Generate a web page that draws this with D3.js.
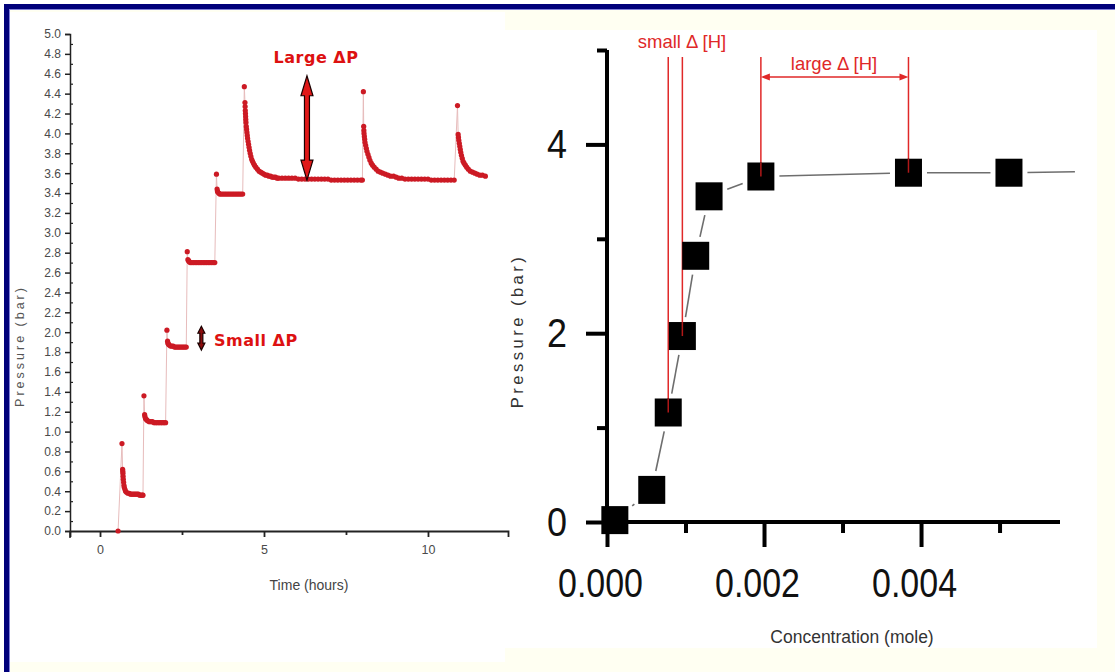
<!DOCTYPE html>
<html>
<head>
<meta charset="utf-8">
<script src="https://cdn.jsdelivr.net/npm/d3@7"></script>
<style>
  html, body { margin: 0; padding: 0; background: #fff; }
  svg { display: block; }
</style>
</head>
<body>
<svg id="chart" width="1115" height="672"></svg>
<script>
// ---------- Left panel: pressure vs time (hydrogen dosing steps) ----------
const timeH = [
  0.55,
  // step 1
  0.67, 0.69, 0.695, 0.70, 0.705, 0.71, 0.72, 0.73, 0.74, 0.76, 0.78, 0.81, 0.85,
  0.89, 0.93, 0.97, 1.01, 1.05, 1.09, 1.13, 1.17, 1.21, 1.25, 1.29, 1.31,
  // step 2
  1.34, 1.36, 1.37, 1.39, 1.42, 1.45, 1.50, 1.55, 1.60, 1.65, 1.70, 1.75, 1.80, 1.85, 1.90, 1.95, 2.00,
  // step 3
  2.04, 2.06, 2.07, 2.09, 2.11, 2.15, 2.19, 2.23, 2.27, 2.31, 2.35, 2.39, 2.43, 2.47, 2.51, 2.55, 2.59, 2.63,
  // step 4
  2.66, 2.68, 2.70, 2.72, 2.75, 2.80, 2.85, 2.90, 2.95, 3.00, 3.05, 3.10, 3.15, 3.20, 3.25, 3.30, 3.35, 3.40, 3.45, 3.50,
  // step 5
  3.55, 3.57, 3.58, 3.59, 3.62, 3.65, 3.70, 3.75, 3.80, 3.85, 3.90, 3.95, 4.00, 4.05, 4.10, 4.15, 4.20, 4.25, 4.30, 4.35,
  // step 6
  4.40,
  4.42, 4.425, 4.43, 4.435, 4.44, 4.445, 4.45, 4.46, 4.47, 4.48, 4.49, 4.50, 4.515, 4.53, 4.545, 4.56, 4.58, 4.60,
  4.625, 4.65, 4.68, 4.71, 4.75, 4.80, 4.85, 4.90, 4.95, 5.00, 5.05, 5.10, 5.15, 5.20, 5.25, 5.30, 5.35, 5.40, 5.45,
  5.55, 5.65, 5.75, 5.85, 5.95, 6.05, 6.15, 6.25, 6.35, 6.45, 6.55, 6.65, 6.75, 6.85, 6.95, 7.05, 7.15, 7.25, 7.35, 7.45,
  7.55, 7.65, 7.75, 7.85, 7.95, 8.00,
  // step 7
  8.03,
  8.04, 8.045, 8.05, 8.06, 8.07, 8.08, 8.10, 8.12, 8.14, 8.17, 8.20, 8.23, 8.27, 8.31, 8.36, 8.42, 8.48, 8.55,
  8.62, 8.70, 8.78, 8.86, 8.95, 9.03, 9.11,
  9.2, 9.3, 9.4, 9.5, 9.6, 9.7, 9.8, 9.9, 10.0, 10.1, 10.2, 10.3, 10.4, 10.5, 10.6, 10.7, 10.8,
  // step 8
  10.90,
  10.92, 10.93, 10.94, 10.955, 10.97, 10.985, 11.00, 11.02, 11.045, 11.07, 11.10, 11.14, 11.18, 11.23, 11.29,
  11.36, 11.43, 11.50, 11.58, 11.66, 11.75
];
const pressureBar = [
  0.00,
  // step 1
  0.88, 0.62, 0.60, 0.58, 0.55, 0.52, 0.49, 0.46, 0.44, 0.42, 0.40, 0.39, 0.38,
  0.38, 0.37, 0.37, 0.37, 0.37, 0.37, 0.37, 0.37, 0.36, 0.36, 0.36, 0.36,
  // step 2
  1.36, 1.17, 1.15, 1.13, 1.12, 1.11, 1.10, 1.10, 1.10, 1.09, 1.09, 1.09, 1.09, 1.09, 1.09, 1.09, 1.09,
  // step 3
  2.02, 1.91, 1.89, 1.88, 1.87, 1.86, 1.86, 1.86, 1.85, 1.85, 1.85, 1.85, 1.85, 1.85, 1.85, 1.85, 1.85, 1.85,
  // step 4
  2.81, 2.73, 2.72, 2.71, 2.70, 2.70, 2.70, 2.70, 2.70, 2.70, 2.70, 2.70, 2.70, 2.70, 2.70, 2.70, 2.70, 2.70, 2.70, 2.70,
  // step 5
  3.59, 3.44, 3.42, 3.41, 3.40, 3.39, 3.39, 3.39, 3.39, 3.39, 3.39, 3.39, 3.39, 3.39, 3.39, 3.39, 3.39, 3.39, 3.39, 3.39,
  // step 6
  4.47,
  4.31, 4.27, 4.23, 4.20, 4.17, 4.14, 4.11, 4.07, 4.04, 4.01, 3.98, 3.95, 3.92, 3.89, 3.86, 3.83, 3.80, 3.77,
  3.74, 3.72, 3.70, 3.68, 3.66, 3.64, 3.62, 3.61, 3.60, 3.59, 3.58, 3.58, 3.57, 3.57, 3.56, 3.56, 3.56, 3.55, 3.55,
  3.55, 3.55, 3.55, 3.55, 3.55, 3.54, 3.54, 3.54, 3.54, 3.54, 3.54, 3.54, 3.54, 3.54, 3.54, 3.53, 3.53, 3.53, 3.53, 3.53,
  3.53, 3.53, 3.53, 3.53, 3.53, 3.53,
  // step 7
  4.42,
  4.07, 4.03, 4.00, 3.97, 3.94, 3.91, 3.88, 3.85, 3.82, 3.79, 3.76, 3.73, 3.70, 3.68, 3.66, 3.64, 3.62, 3.61,
  3.60, 3.59, 3.58, 3.57, 3.57, 3.56, 3.55,
  3.55, 3.54, 3.54, 3.54, 3.54, 3.54, 3.54, 3.54, 3.54, 3.53, 3.53, 3.53, 3.53, 3.53, 3.53, 3.53, 3.53,
  // step 8
  4.28,
  3.99, 3.96, 3.93, 3.90, 3.87, 3.84, 3.81, 3.78, 3.75, 3.72, 3.70, 3.68, 3.66, 3.64, 3.62,
  3.61, 3.60, 3.59, 3.58, 3.58, 3.57
];
const timeTicks = [0, 5, 10];
const timeMinorTicks = [2.5, 7.5];
const pressureTicksL = d3.range(0, 26).map(i => i / 5);
const pressureMinorTicksL = d3.range(0, 25).map(i => (2 * i + 1) / 10);

// ---------- Right panel: equilibrium pressure vs hydrogen concentration ----------
const concMole = [0.00010, 0.00057, 0.00078, 0.00096, 0.00113, 0.00130, 0.00196, 0.00384, 0.00512];
const pressureEq = [0.02, 0.34, 1.16, 1.97, 2.82, 3.45, 3.66, 3.70, 3.70];
const trendTail = [0.00596, 3.71];
const concTicks = [0, 0.002, 0.004];
const concMinorTicks = [0.001, 0.003, 0.005];
const pressureTicksR = [0, 2, 4];
const pressureMinorTicksR = [1, 3, 5];
const smallDeltaIdx = [2, 3];
const largeDeltaIdx = [6, 7];

const svg = d3.select("#chart");

// ---------- page background and frame ----------
svg.append("rect").attr("width", 1115).attr("height", 672).attr("fill", "#fffff2");
svg.append("rect").attr("x", 10).attr("y", 12).attr("width", 495).attr("height", 650).attr("fill", "#ffffff");
svg.append("rect").attr("x", 505).attr("y", 30).attr("width", 592).attr("height", 618).attr("fill", "#ffffff");
svg.append("rect").attr("x", 0).attr("y", 0).attr("width", 1115).attr("height", 4).attr("fill", "#ffffff");
svg.append("rect").attr("x", 0).attr("y", 0).attr("width", 4).attr("height", 672).attr("fill", "#ffffff");
svg.append("rect").attr("x", 4).attr("y", 4).attr("width", 1111).attr("height", 5).attr("fill", "#00007a");
svg.append("rect").attr("x", 4).attr("y", 4).attr("width", 5).attr("height", 668).attr("fill", "#00007a");
svg.append("rect").attr("x", 9).attr("y", 9).attr("width", 1106).attr("height", 1).attr("fill", "#7f7fd8");
svg.append("rect").attr("x", 9).attr("y", 9).attr("width", 1).attr("height", 663).attr("fill", "#7f7fd8");

// ================= LEFT CHART =================
const xL = d3.scaleLinear().domain([-0.915, 12.44]).range([70, 508]);
const yL = d3.scaleLinear().domain([0, 5]).range([531, 34]);
const gL = svg.append("g");

function styleAxis(g, color, width) {
  g.select(".domain").attr("stroke", color).attr("stroke-width", width);
  g.selectAll(".tick line").attr("stroke", color).attr("stroke-width", width);
}

// y axis (left) with major ticks and labels
const yAxisL = gL.append("g").attr("transform", `translate(${xL.range()[0]},0)`)
  .call(d3.axisLeft(yL).tickValues(pressureTicksL).tickSize(5).tickPadding(4).tickFormat(d3.format(".1f")));
styleAxis(yAxisL, "#222", 1.5);
yAxisL.selectAll("text").attr("fill", "#4a4a4a").attr("font-family", "Liberation Sans, Arial, sans-serif").attr("font-size", 12);
// minor ticks on the inside
const yMinorL = gL.append("g").attr("transform", `translate(${xL.range()[0]},0)`)
  .call(d3.axisRight(yL).tickValues(pressureMinorTicksL).tickSize(3).tickFormat(""));
yMinorL.select(".domain").remove();
yMinorL.selectAll(".tick line").attr("stroke", "#222").attr("stroke-width", 1.2);
// axis stub below the origin
gL.append("line").attr("x1", xL.range()[0]).attr("x2", xL.range()[0]).attr("y1", yL(0)).attr("y2", yL(0) + 7)
  .attr("stroke", "#222").attr("stroke-width", 1.5);

// x axis (bottom)
const xAxisL = gL.append("g").attr("transform", `translate(0,${yL(0)})`)
  .call(d3.axisBottom(xL).tickValues(timeTicks).tickSize(6).tickPadding(8).tickFormat(d3.format("d")));
styleAxis(xAxisL, "#222", 1.8);
xAxisL.selectAll("text").attr("fill", "#4a4a4a").attr("font-family", "Liberation Sans, Arial, sans-serif").attr("font-size", 12.5);
const xMinorL = gL.append("g").attr("transform", `translate(0,${yL(0)})`)
  .call(d3.axisBottom(xL).tickValues(timeMinorTicks).tickSize(4).tickFormat(""));
xMinorL.select(".domain").remove();
xMinorL.selectAll(".tick line").attr("stroke", "#222").attr("stroke-width", 1.8);

// axis titles
gL.append("text").attr("x", 309).attr("y", 590).attr("text-anchor", "middle")
  .attr("font-family", "Liberation Sans, Arial, sans-serif").attr("font-size", 14).attr("fill", "#444")
  .text("Time (hours)");
gL.append("text").attr("transform", "translate(24,346) rotate(-90)").attr("text-anchor", "middle")
  .attr("font-family", "Liberation Sans, Arial, sans-serif").attr("font-size", 12.5).attr("letter-spacing", 3)
  .attr("fill", "#555").text("Pressure (bar)");

// data: thin connecting trace + dots
const seriesL = timeH.map((t, i) => [t, pressureBar[i]]);
gL.append("path").datum(seriesL)
  .attr("d", d3.line().x(d => xL(d[0])).y(d => yL(d[1])))
  .attr("fill", "none").attr("stroke", "#e7bcbc").attr("stroke-width", 1);
gL.append("g").selectAll("circle").data(seriesL).join("circle")
  .attr("cx", d => xL(d[0])).attr("cy", d => yL(d[1])).attr("r", 2.6)
  .attr("fill", "#cc1a24");

// double-headed arrow helper (vertical)
function vArrow(g, x, yTop, yBot, shaftW, headW, headL, fill, stroke) {
  const p = d3.path();
  p.moveTo(x, yTop);
  p.lineTo(x + headW / 2, yTop + headL);
  p.lineTo(x + shaftW / 2, yTop + headL);
  p.lineTo(x + shaftW / 2, yBot - headL);
  p.lineTo(x + headW / 2, yBot - headL);
  p.lineTo(x, yBot);
  p.lineTo(x - headW / 2, yBot - headL);
  p.lineTo(x - shaftW / 2, yBot - headL);
  p.lineTo(x - shaftW / 2, yTop + headL);
  p.lineTo(x - headW / 2, yTop + headL);
  p.closePath();
  g.append("path").attr("d", p.toString()).attr("fill", fill).attr("stroke", stroke).attr("stroke-width", 1.2);
}
// Large ΔP annotation
vArrow(gL, xL(6.31), yL(4.58), yL(3.53), 5, 12, 20, "#e01818", "#1a0000");
gL.append("text").attr("x", 316).attr("y", 63).attr("text-anchor", "middle")
  .attr("font-family", "DejaVu Sans, Verdana, sans-serif").attr("font-weight", "bold").attr("font-size", 16)
  .attr("letter-spacing", 0.5).attr("fill", "#dd1111").text("Large ΔP");
// Small ΔP annotation
vArrow(gL, xL(3.09), yL(2.06), yL(1.82), 3, 7, 7, "#8a0c0c", "#1a0000");
gL.append("text").attr("x", 214).attr("y", 346)
  .attr("font-family", "DejaVu Sans, Verdana, sans-serif").attr("font-weight", "bold").attr("font-size", 16)
  .attr("letter-spacing", 0.5).attr("fill", "#dd1111").text("Small ΔP");

// ================= RIGHT CHART =================
const xR = d3.scaleLinear().domain([0, 0.00577]).range([607, 1060]);
const yR = d3.scaleLinear().domain([0, 5]).range([522, 50]);
const gR = svg.append("g");
const bigFont = "Liberation Sans, Arial, sans-serif";

const yAxisR = gR.append("g").attr("transform", `translate(${xR(0)},0)`)
  .call(d3.axisLeft(yR).tickValues(pressureTicksR).tickSize(21).tickPadding(19).tickFormat(d3.format("d")));
styleAxis(yAxisR, "#000", 4);
yAxisR.select(".domain").attr("d", `M0,${yR(5)}V${yR(0)}`);
yAxisR.selectAll("text").attr("fill", "#111").attr("font-family", bigFont).attr("font-size", 41)
  .attr("textLength", 20).attr("lengthAdjust", "spacingAndGlyphs");
const yMinorR = gR.append("g").attr("transform", `translate(${xR(0)},0)`)
  .call(d3.axisLeft(yR).tickValues(pressureMinorTicksR).tickSize(10).tickFormat(""));
yMinorR.select(".domain").remove();
yMinorR.selectAll(".tick line").attr("stroke", "#000").attr("stroke-width", 4);

const xAxisR = gR.append("g").attr("transform", `translate(0,${yR(0)})`)
  .call(d3.axisBottom(xR).tickValues(concTicks).tickSize(25).tickPadding(21).tickFormat(d3.format(".3f")));
styleAxis(xAxisR, "#000", 4);
xAxisR.select(".domain").attr("d", `M${xR(0)},0H${xR.range()[1]}`);
xAxisR.selectAll("text").attr("fill", "#111").attr("font-family", bigFont).attr("font-size", 41).attr("dx", -7)
  .attr("textLength", 85).attr("lengthAdjust", "spacingAndGlyphs");
const xMinorR = gR.append("g").attr("transform", `translate(0,${yR(0)})`)
  .call(d3.axisBottom(xR).tickValues(concMinorTicks).tickSize(11).tickFormat(""));
xMinorR.select(".domain").remove();
xMinorR.selectAll(".tick line").attr("stroke", "#000").attr("stroke-width", 4);

gR.append("text").attr("x", 852).attr("y", 643).attr("text-anchor", "middle")
  .attr("font-family", "Liberation Sans, Arial, sans-serif").attr("font-size", 17.5).attr("fill", "#333")
  .text("Concentration (mole)");
gR.append("text").attr("transform", "translate(523,331) rotate(-90)").attr("text-anchor", "middle")
  .attr("font-family", "Liberation Sans, Arial, sans-serif").attr("font-size", 16.5).attr("letter-spacing", 3.5)
  .attr("fill", "#333").text("Pressure (bar)");

// connecting line with gaps around the square markers
const sqW = 27, sqH = 28, gap = 5;
const pts = concMole.map((c, i) => [xR(c), yR(pressureEq[i])]);
const tracePts = pts.concat([[xR(trendTail[0]), yR(trendTail[1])]]);
function cutLen(ux, uy) {
  const tx = Math.abs(ux) > 1e-9 ? (sqW / 2) / Math.abs(ux) : Infinity;
  const ty = Math.abs(uy) > 1e-9 ? (sqH / 2) / Math.abs(uy) : Infinity;
  return Math.min(tx, ty) + gap;
}
const segs = [];
for (let i = 0; i < tracePts.length - 1; i++) {
  const a = tracePts[i], b = tracePts[i + 1];
  const dx = b[0] - a[0], dy = b[1] - a[1], L = Math.hypot(dx, dy);
  const ux = dx / L, uy = dy / L;
  const ca = i < pts.length ? cutLen(ux, uy) : 0;
  const cb = i + 1 < pts.length ? cutLen(ux, uy) : 0;
  if (L > ca + cb) segs.push([a[0] + ux * ca, a[1] + uy * ca, b[0] - ux * cb, b[1] - uy * cb]);
}
gR.append("g").selectAll("line").data(segs).join("line")
  .attr("x1", d => d[0]).attr("y1", d => d[1]).attr("x2", d => d[2]).attr("y2", d => d[3])
  .attr("stroke", "#6e6e6e").attr("stroke-width", 1.6);

// red guide lines (drawn under the markers' centres)
const annotTop = 57;
const red = "#e02828";
const guideIdx = smallDeltaIdx.concat(largeDeltaIdx);
gR.append("g").selectAll("line").data(guideIdx).join("line")
  .attr("x1", i => xR(concMole[i])).attr("x2", i => xR(concMole[i]))
  .attr("y1", annotTop).attr("y2", i => yR(pressureEq[i]))
  .attr("stroke", red).attr("stroke-width", 1.5);

// square markers
gR.append("g").selectAll("rect").data(pts).join("rect")
  .attr("x", d => d[0] - sqW / 2).attr("y", d => d[1] - sqH / 2)
  .attr("width", sqW).attr("height", sqH).attr("fill", "#000");

// red guide lines continue visibly onto the markers
gR.append("g").selectAll("line").data(guideIdx).join("line")
  .attr("x1", i => xR(concMole[i])).attr("x2", i => xR(concMole[i]))
  .attr("y1", i => yR(pressureEq[i]) - sqH / 2).attr("y2", i => yR(pressureEq[i]))
  .attr("stroke", "#b01818").attr("stroke-width", 1.5);

// horizontal double arrow for the large Δ[H]
const ax1 = xR(concMole[largeDeltaIdx[0]]), ax2 = xR(concMole[largeDeltaIdx[1]]), ay = 77;
gR.append("line").attr("x1", ax1 + 8).attr("x2", ax2 - 8).attr("y1", ay).attr("y2", ay)
  .attr("stroke", red).attr("stroke-width", 1.3);
gR.append("path").attr("d", `M${ax1},${ay}L${ax1 + 9},${ay - 3.5}L${ax1 + 9},${ay + 3.5}Z`).attr("fill", red);
gR.append("path").attr("d", `M${ax2},${ay}L${ax2 - 9},${ay - 3.5}L${ax2 - 9},${ay + 3.5}Z`).attr("fill", red);

gR.append("text").attr("x", 682).attr("y", 48).attr("text-anchor", "middle")
  .attr("font-family", "Liberation Sans, Arial, sans-serif").attr("font-size", 18.5).attr("fill", red)
  .text("small Δ [H]");
gR.append("text").attr("x", 834).attr("y", 70).attr("text-anchor", "middle")
  .attr("font-family", "Liberation Sans, Arial, sans-serif").attr("font-size", 18.5).attr("fill", red)
  .text("large Δ [H]");
</script>
</body>
</html>
